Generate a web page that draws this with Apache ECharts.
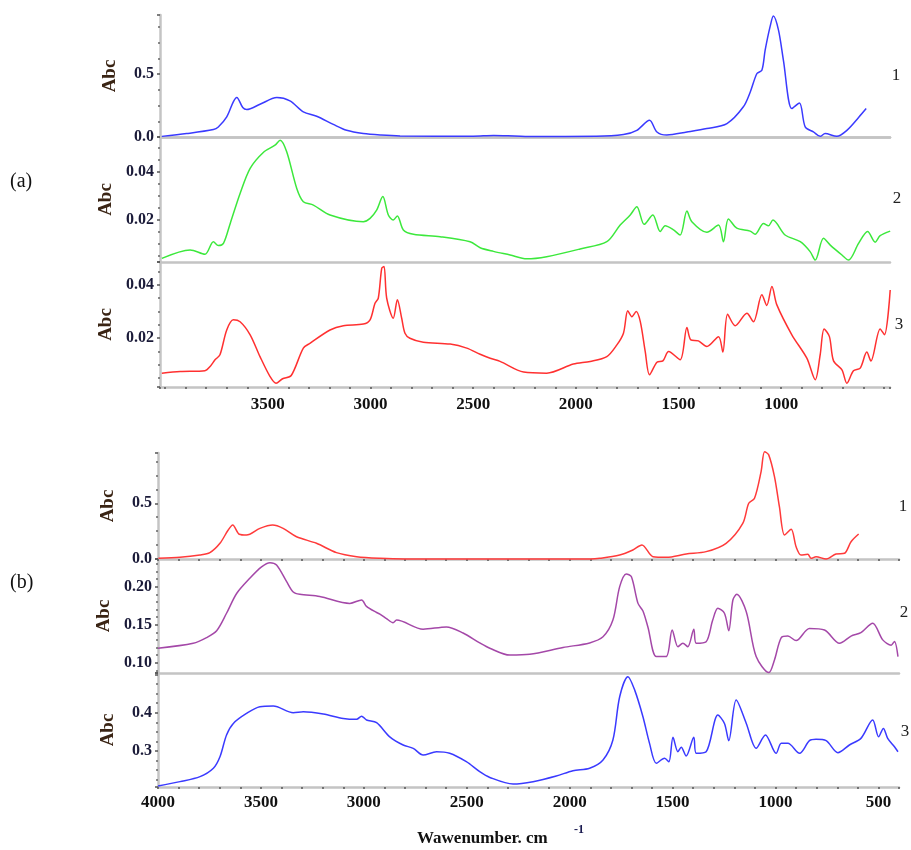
<!DOCTYPE html>
<html><head><meta charset="utf-8">
<script src="https://cdn.jsdelivr.net/npm/echarts@6/dist/echarts.min.js"></script>
<style>html,body{margin:0;padding:0;background:#fff}#c{width:911px;height:850px}</style>
</head><body><div id="c"></div>
<script>
// ---- data (wavenumber, absorbance) ----
const a1Wn  = [4016,3895,3765,3741,3700,3668,3651,3622,3603,3538,3456,3392,3327,3262,3181,3116,3035,2950,2856,2500,2400,2300,2200,1900,1768,1703,1641,1605,1557,1459,1362,1264,1184,1150,1118,1094,1078,1054,1038,1013,989,948,911,883,843,810,786,729,680,623,586];
const a1Abs = [0.005,0.027,0.059,0.08,0.16,0.28,0.314,0.234,0.218,0.26,0.314,0.287,0.2,0.165,0.10,0.053,0.027,0.015,0.008,0.006,0.012,0.008,0.004,0.005,0.019,0.053,0.133,0.04,0.016,0.04,0.067,0.107,0.24,0.36,0.505,0.53,0.69,0.877,0.962,0.85,0.61,0.226,0.27,0.08,0.04,0.005,0.027,0.005,0.053,0.155,0.226];

const a2Wn  = [4016,3878,3806,3765,3741,3716,3683,3635,3586,3522,3465,3440,3408,3359,3327,3278,3197,3035,3002,2970,2940,2913,2889,2869,2840,2791,2661,2515,2466,2401,2320,2239,2142,1979,1849,1784,1735,1703,1667,1625,1589,1565,1524,1492,1459,1435,1362,1305,1281,1257,1216,1151,1127,1086,1062,1040,981,907,859,834,794,761,704,672,623,579,542,518,469];
const a2Abs = [0.0041,0.0076,0.0058,0.011,0.0094,0.0103,0.0186,0.031,0.0414,0.048,0.051,0.0531,0.0483,0.0331,0.0276,0.0262,0.0221,0.0193,0.0207,0.0241,0.0297,0.0221,0.02,0.0217,0.0159,0.0141,0.0131,0.011,0.0085,0.007,0.0055,0.0039,0.0048,0.008,0.011,0.0179,0.0221,0.0255,0.0182,0.0221,0.0152,0.0176,0.0159,0.0138,0.0237,0.0193,0.0149,0.0179,0.011,0.0204,0.0166,0.0154,0.0141,0.0186,0.0176,0.02,0.0138,0.011,0.0069,0.0034,0.0124,0.0096,0.0055,0.0034,0.0103,0.0152,0.0108,0.0135,0.0154];

const a3Wn  = [4016,3927,3806,3781,3757,3733,3700,3668,3635,3586,3538,3489,3460,3428,3386,3327,3295,3197,3132,3035,3002,2978,2962,2945,2934,2921,2889,2869,2848,2832,2808,2743,2612,2531,2466,2417,2369,2254,2142,2012,1930,1849,1800,1768,1747,1727,1706,1686,1662,1641,1605,1576,1548,1492,1459,1440,1403,1362,1305,1284,1261,1224,1167,1135,1094,1070,1045,1021,948,875,834,810,791,765,745,704,680,648,615,583,563,518,497,469];
const a3Abs = [0.0069,0.0075,0.0078,0.0094,0.0119,0.0138,0.0231,0.0269,0.0262,0.0213,0.0131,0.0056,0.0031,0.0048,0.006,0.0163,0.0181,0.0231,0.0247,0.0253,0.0269,0.0331,0.035,0.0463,0.0469,0.035,0.0275,0.0344,0.0275,0.0219,0.02,0.0185,0.0178,0.0163,0.014,0.0125,0.0113,0.0073,0.0069,0.0103,0.0113,0.0131,0.0175,0.0219,0.0303,0.0281,0.03,0.0262,0.015,0.0063,0.011,0.0115,0.015,0.0119,0.024,0.0194,0.019,0.0169,0.0206,0.0148,0.029,0.0247,0.0294,0.0262,0.0363,0.0323,0.0394,0.0325,0.0213,0.0125,0.0044,0.0138,0.0235,0.0206,0.0115,0.0081,0.0031,0.0078,0.0088,0.0148,0.0115,0.0235,0.0213,0.0381];

const b1Wn  = [3998,3893,3796,3748,3699,3659,3637,3605,3570,3505,3443,3392,3327,3230,3133,3035,2922,2800,1900,1854,1757,1693,1649,1595,1530,1434,1337,1240,1159,1130,1102,1070,1053,1033,1005,981,956,924,900,876,843,827,803,754,706,665,633,596];
const b1Abs = [0.006,0.015,0.036,0.057,0.141,0.26,0.305,0.222,0.215,0.275,0.305,0.275,0.2,0.141,0.057,0.021,0.006,0.0,0.0,0.006,0.036,0.081,0.126,0.021,0.015,0.045,0.066,0.141,0.32,0.5,0.545,0.784,0.963,0.934,0.739,0.469,0.215,0.266,0.11,0.036,0.042,0.006,0.021,0.0,0.045,0.051,0.155,0.224];

const b2Wn  = [4000,3829,3764,3715,3667,3618,3554,3497,3456,3424,3375,3343,3311,3214,3068,3011,2987,2938,2922,2890,2858,2841,2712,2599,2518,2437,2388,2291,2194,2032,1903,1838,1790,1757,1725,1700,1668,1644,1620,1579,1531,1502,1474,1450,1426,1397,1385,1337,1305,1280,1248,1227,1207,1188,1142,1094,1032,1005,972,940,900,835,762,689,633,585,528,479,438,422,405];
const b2Abs = [0.119,0.1255,0.133,0.142,0.165,0.191,0.211,0.226,0.2316,0.2285,0.2066,0.193,0.19,0.187,0.178,0.1825,0.174,0.166,0.164,0.158,0.1526,0.156,0.144,0.147,0.139,0.126,0.119,0.11,0.111,0.12,0.126,0.134,0.156,0.20,0.2167,0.213,0.178,0.168,0.147,0.108,0.108,0.143,0.121,0.1255,0.121,0.144,0.1255,0.1276,0.156,0.1716,0.165,0.142,0.1825,0.19,0.167,0.108,0.087,0.1036,0.133,0.135,0.129,0.145,0.143,0.1255,0.135,0.1395,0.152,0.13,0.123,0.128,0.108];

const b3Wn  = [4000,3893,3796,3731,3699,3667,3634,3570,3505,3440,3343,3294,3197,3100,3035,3011,2987,2938,2874,2809,2760,2712,2647,2583,2502,2437,2388,2275,2178,2065,1984,1903,1838,1790,1757,1717,1684,1644,1612,1579,1539,1518,1498,1474,1458,1434,1397,1385,1337,1280,1248,1227,1191,1142,1094,1049,997,972,940,883,835,803,754,697,641,585,528,499,476,455,422,405];
const b3Abs = [0.2086,0.22,0.233,0.255,0.285,0.342,0.372,0.398,0.4157,0.4175,0.4,0.4026,0.3966,0.385,0.3827,0.391,0.381,0.374,0.337,0.3157,0.307,0.2896,0.298,0.294,0.272,0.246,0.231,0.2138,0.22,0.2347,0.2486,0.255,0.2765,0.3287,0.4418,0.494,0.459,0.3896,0.32,0.268,0.281,0.272,0.3357,0.298,0.31,0.287,0.3357,0.294,0.298,0.394,0.372,0.327,0.433,0.372,0.307,0.342,0.294,0.32,0.32,0.294,0.327,0.3305,0.327,0.2956,0.3157,0.333,0.381,0.337,0.359,0.333,0.311,0.298];

const xLabelsA = [3500,3000,2500,2000,1500,1000];
const xLabelsB = [4000,3500,3000,2500,2000,1500,1000,500];
const yLabels = [
  ['0.0','0.5'],
  ['0.02','0.04'],
  ['0.02','0.04'],
  ['0.0','0.5'],
  ['0.10','0.15','0.20'],
  ['0.3','0.4']
];
const curveLabels = ['1','2','3','1','2','3'];
const panelLabels = ['(a)','(b)'];
const xTitle = 'Wawenumber. cm';
const xTitleSup = '-1';
const yTitle = 'Abc';

// ---- build ----
const zip = (w, v) => w.map((x, i) => [x, v[i]]);
const seriesData = [zip(a1Wn,a1Abs), zip(a2Wn,a2Abs), zip(a3Wn,a3Abs), zip(b1Wn,b1Abs), zip(b2Wn,b2Abs), zip(b3Wn,b3Abs)];
const colors = ['#3a3aff','#3ce83c','#ff3030','#ff3a3a','#a448a8','#3a3aff'];

const serif = '"Liberation Serif","DejaVu Serif",serif';
const gray = '#c4c4c4';

const grids = [
  {left:160, right:21, top:15,  height:122},
  {left:160, right:21, top:137, height:125},
  {left:160, right:21, top:262, height:125},
  {left:158, right:12, top:453, height:106},
  {left:158, right:12, top:559, height:114},
  {left:158, right:12, top:673, height:114}
];

const yCfg = [
  {min:0, max:0.97, step:0.5, dec:1, minor:4},
  {min:0.0026, max:0.0544, step:0.02, dec:2, minor:4},
  {min:0.0017, max:0.0486, step:0.02, dec:2, minor:4},
  {min:0, max:0.951, step:0.5, dec:1, minor:4},
  {min:0.0864, max:0.2364, step:0.05, dec:2, minor:5},
  {min:0.206, max:0.5037, step:0.1, dec:1, minor:4}
];

const xAxes = grids.map((g, i) => {
  const isA = i < 3;
  const labelled = (i === 2 || i === 5);
  const labelSet = isA ? xLabelsA : xLabelsB;
  return {
    type:'value', gridIndex:i, inverse:true,
    min: isA ? 470 : 400, max: isA ? 4025 : 4000,
    minInterval:100, maxInterval:100,
    axisLine:{show:true, onZero:false, lineStyle:{color:gray, width:2.5}},
    axisTick:{show: labelled || i===3, inside:false, length:2, lineStyle:{color:'#555', width:1.5}},
    splitLine:{show:false},
    axisLabel:{show:labelled, margin: isA ? 9 : 7, color:'#111', fontFamily:serif, fontWeight:'bold', fontSize:17,
      formatter: v => labelSet.some(l => Math.abs(l - v) < 1e-6) ? String(Math.round(v)) : ''}
  };
});
// top border line of the first grid
xAxes.push({type:'value', gridIndex:0, position:'top', inverse:true, min:470, max:4025,
  axisLine:{show:true, lineStyle:{color:gray, width:2.5}}, axisTick:{show:false}, axisLabel:{show:false}, splitLine:{show:false}});

const yAxes = yCfg.map((c, i) => ({
  type:'value', gridIndex:i, min:c.min, max:c.max,
  minInterval:c.step, maxInterval:c.step,
  name: yTitle, nameLocation:'middle', nameRotate:90, nameGap: 40,
  nameTextStyle:{fontFamily:serif, fontWeight:'bold', fontSize:19, color:'#3a2414'},
  axisLine:{show:true, lineStyle:{color:gray, width:2.5}},
  axisTick:{show:true, length:3, lineStyle:{color:'#555', width:1.5}},
  minorTick:{show:true, splitNumber:c.minor, length:2, lineStyle:{color:'#666', width:1.5}},
  splitLine:{show:false},
  axisLabel:{margin:6, color:'#1a1a38', fontFamily:serif, fontWeight:'bold', fontSize:16,
    formatter: v => { const s = v.toFixed(c.dec); return yLabels[i].some(l => Math.abs(parseFloat(l) - v) < 1e-6) ? s : ''; }}
}));

const series = seriesData.map((d, i) => ({
  type:'line', xAxisIndex:i, yAxisIndex:i, data:d, showSymbol:false, smooth:0.3,
  clip:false, lineStyle:{color:colors[i], width:1.5}, itemStyle:{color:colors[i]}
}));

const curveLabelPos = [[896,76],[897,199],[899,325],[903,507],[904,613],[905,732]];
const graphic = [];
curveLabels.forEach((t, i) => graphic.push({type:'text', x:curveLabelPos[i][0], y:curveLabelPos[i][1],
  style:{text:t, fill:'#222', font:'17px ' + serif, align:'center', verticalAlign:'middle'}}));
graphic.push({type:'text', x:10, y:182, style:{text:panelLabels[0], fill:'#111', font:'20px ' + serif, align:'left', verticalAlign:'middle'}});
graphic.push({type:'text', x:10, y:583, style:{text:panelLabels[1], fill:'#111', font:'20px ' + serif, align:'left', verticalAlign:'middle'}});
graphic.push({type:'text', x:417, y:839, style:{text:xTitle, fill:'#111', font:'bold 17px ' + serif, align:'left', verticalAlign:'middle'}});
graphic.push({type:'text', x:574, y:830, style:{text:xTitleSup, fill:'#1a1a50', font:'bold 12px ' + serif, align:'left', verticalAlign:'middle'}});

const chart = echarts.init(document.getElementById('c'));
chart.setOption({
  animation:false, backgroundColor:'#fff',
  grid: grids, xAxis: xAxes, yAxis: yAxes, series: series, graphic: graphic
});
</script></body></html>
